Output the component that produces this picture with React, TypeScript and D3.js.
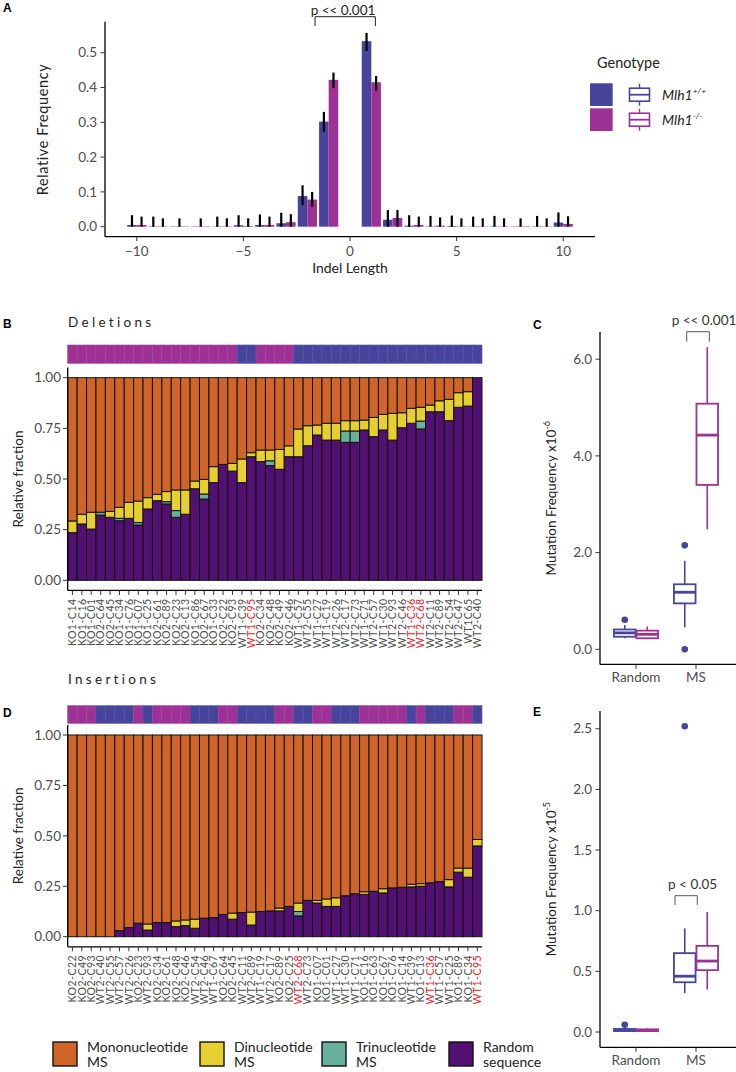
import React from 'react';
import * as d3 from 'd3';

// ---------- shared styling ----------
const FONT = "Lato, 'Open Sans', sans-serif";
const TXT = '#4d4d4d';
const BLUE = '#46459b';
const MAG = '#9d3196';
const C_MONO = '#cf6529';
const C_DI = '#e6cf2e';
const C_TRI = '#69b09c';
const C_RAND = '#521072';

// ---------- Panel A data ----------
const indelLengths = [-10, -9, -8, -7, -6, -5, -4, -3, -2, -1, 1, 2, 3, 4, 5, 6, 7, 8, 9, 10];
const wtFreq = [0.005, 0.001, null, null, 0.001, 0.004, 0.005, 0.01, 0.088, 0.302, 0.533, 0.02, 0.003, 0.001, 0.002, 0.001, 0.001, null, 0.001, 0.012];
const koFreq = [0.005, 0.001, 0.001, 0.001, 0.001, 0.002, 0.005, 0.013, 0.078, 0.422, 0.415, 0.025, 0.005, 0.003, 0.001, 0.001, 0.001, 0.001, 0.001, 0.008];
const wtHi = [0.033, 0.029, null, null, 0.029, 0.033, 0.035, 0.04, 0.119, 0.33, 0.557, 0.048, 0.033, 0.031, 0.032, 0.029, 0.031, null, 0.031, 0.041];
const wtLo = [0, 0, null, null, 0, 0, 0, 0, 0.062, 0.273, 0.505, 0, 0, 0, 0, 0, 0, null, 0, 0];
const koHi = [0.029, 0.024, 0.024, 0.024, 0.024, 0.024, 0.029, 0.036, 0.1, 0.443, 0.433, 0.048, 0.029, 0.027, 0.024, 0.024, 0.024, 0.024, 0.024, 0.03];
const koLo = [0, 0, 0, 0, 0, 0, 0, 0, 0.057, 0.398, 0.39, 0, 0, 0, 0, 0, 0, 0, 0, 0];
const aYTicks = [0, 0.1, 0.2, 0.3, 0.4, 0.5];
const aXTicks = [-10, -5, 0, 5, 10];

// ---------- Panel B data (deletions) ----------
const delLabels = ['KO1-C14', 'KO1-C16', 'KO1-C01', 'KO2-C64', 'KO2-C45', 'KO1-C34', 'KO1-C76', 'KO1-C07', 'KO1-C25', 'KO2-C61', 'KO2-C89', 'KO2-C23', 'KO2-C13', 'KO1-C86', 'KO2-C67', 'KO1-C33', 'KO2-C22', 'KO2-C93', 'WT1-C39', 'WT1-C95', 'KO2-C34', 'KO2-C48', 'KO2-C49', 'KO2-C46', 'WT1-C57', 'WT2-C55', 'WT1-C27', 'WT1-C19', 'WT2-C26', 'WT2-C17', 'WT2-C73', 'WT1-C71', 'WT2-C57', 'WT1-C30', 'WT2-C93', 'WT2-C46', 'WT1-C36', 'WT2-C68', 'WT2-C11', 'WT2-C89', 'WT2-C54', 'WT2-C47', 'WT1C65', 'WT2-C40'];
const delRandom = [0.235, 0.278, 0.253, 0.322, 0.311, 0.294, 0.306, 0.273, 0.352, 0.393, 0.377, 0.311, 0.326, 0.452, 0.401, 0.482, 0.572, 0.539, 0.482, 0.61, 0.586, 0.566, 0.548, 0.61, 0.61, 0.664, 0.717, 0.692, 0.692, 0.681, 0.681, 0.742, 0.709, 0.742, 0.692, 0.753, 0.775, 0.747, 0.832, 0.832, 0.788, 0.854, 0.86, 1.0];
const delTri = [0, 0, 0, 0.014, 0, 0.012, 0, 0.012, 0, 0, 0.011, 0.033, 0, 0, 0.025, 0, 0, 0, 0, 0, 0, 0.024, 0, 0, 0, 0, 0, 0, 0, 0.056, 0.056, 0, 0, 0, 0, 0, 0, 0.039, 0, 0, 0, 0, 0, 0];
const delDi = [0.058, 0.048, 0.083, 0, 0.029, 0.054, 0.079, 0.106, 0.056, 0.031, 0.05, 0.102, 0.12, 0.038, 0.072, 0.079, 0, 0.038, 0.117, 0.02, 0.057, 0.053, 0.098, 0.054, 0.137, 0.099, 0.049, 0.083, 0.083, 0.051, 0.051, 0.049, 0.095, 0.077, 0.132, 0.074, 0.074, 0.068, 0.033, 0.054, 0.105, 0.072, 0.071, 0];

// ---------- Panel D data (insertions) ----------
const insLabels = ['KO2-C22', 'KO2-C49', 'KO2-C93', 'WT2-C40', 'WT2-C55', 'WT2-C57', 'WT2-C26', 'KO2-C23', 'WT2-C93', 'KO2-C34', 'KO2-C61', 'KO2-C48', 'KO2-C46', 'WT2-C54', 'WT2-C46', 'WT1-C67', 'KO2-C64', 'KO2-C45', 'WT2-C11', 'WT2-C89', 'WT1-C19', 'WT2-C17', 'KO2-C89', 'KO2-C25', 'WT2-C68', 'WT2-C73', 'KO1-C07', 'KO1-C01', 'WT1-C27', 'WT1-C30', 'WT1-C71', 'KO1-C16', 'KO1-C63', 'KO1-C67', 'KO1-C76', 'KO1-C14', 'WT1-C39', 'KO1-C13', 'WT1-C36', 'WT1-C57', 'WT1-C25', 'KO1-C89', 'KO1-C34', 'WT1-C95'];
const insRandom = [0, 0, 0, 0, 0, 0.03, 0.045, 0.067, 0.033, 0.07, 0.07, 0.05, 0.055, 0.042, 0.092, 0.095, 0.11, 0.087, 0.12, 0.058, 0.125, 0.128, 0.128, 0.15, 0.103, 0.18, 0.167, 0.15, 0.15, 0.203, 0.213, 0.21, 0.225, 0.217, 0.242, 0.245, 0.247, 0.25, 0.267, 0.273, 0.247, 0.32, 0.295, 0.45];
const insTri = [0, 0, 0, 0, 0, 0, 0, 0, 0, 0, 0, 0, 0, 0, 0, 0, 0, 0, 0, 0, 0, 0, 0, 0, 0.022, 0, 0, 0, 0, 0, 0, 0, 0, 0, 0, 0, 0, 0, 0, 0, 0, 0, 0, 0];
const insDi = [0, 0, 0, 0, 0, 0, 0, 0, 0.03, 0, 0, 0.028, 0.028, 0.045, 0, 0, 0, 0.03, 0, 0.064, 0, 0, 0.014, 0, 0.042, 0, 0.013, 0.037, 0.043, 0, 0, 0.013, 0, 0.021, 0, 0, 0.013, 0.013, 0, 0, 0.036, 0.02, 0.045, 0.032];
const redLabels = ['WT1-C95', 'WT1-C36', 'WT2-C68'];
const fracTicks = [0, 0.25, 0.5, 0.75, 1];

// ---------- Panel C / E data (boxplots) ----------
const boxCats = ['Random', 'MS'];
// [lowerWhisker, q1, median, q3, upperWhisker]
const cWT = [[0.23, 0.26, 0.34, 0.41, 0.5], [0.455, 0.95, 1.18, 1.345, 1.83]];
const cKO = [[0.21, 0.228, 0.31, 0.386, 0.47], [2.48, 3.4, 4.43, 5.08, 6.25]];
const cWTOut = [[0.61], [2.15, 0.0]];
const cKOOut = [[], []];
const cTicks = [0, 2, 4, 6];
const eWT = [[0.005, 0.008, 0.015, 0.025, 0.04], [0.32, 0.41, 0.46, 0.65, 0.855]];
const eKO = [[0.005, 0.008, 0.013, 0.022, 0.03], [0.35, 0.51, 0.585, 0.71, 0.99]];
const eWTOut = [[0.06], [2.52]];
const eKOOut = [[], []];
const eTicks = [0, 0.5, 1, 1.5, 2, 2.5];

const legendItems = [
  { color: C_MONO, l1: 'Mononucleotide', l2: 'MS' },
  { color: C_DI, l1: 'Dinucleotide', l2: 'MS' },
  { color: C_TRI, l1: 'Trinucleotide', l2: 'MS' },
  { color: C_RAND, l1: 'Random', l2: 'sequence' },
];

const isKO = (l: string) => l.startsWith('KO');

function PanelA() {
  const x = d3.scaleLinear().domain([-11.49, 11.49]).range([105, 595]);
  const y = d3.scaleLinear().domain([0, 0.5]).range([226.7, 52.7]);
  const half = 0.45;
  const els: any[] = [];
  indelLengths.forEach((L, i) => {
    const w = wtFreq[i];
    const k = koFreq[i];
    const both = w != null && k != null;
    const bar = (x0: number, x1: number, v: number, c: string, key: string) => (
      <rect key={key} x={x(x0)} width={x(x1) - x(x0)} y={y(v)} height={Math.max(0.4, y(0) - y(v))} fill={c} />
    );
    const err = (cx: number, lo: number, hi: number, key: string) => (
      <line key={key} x1={x(cx)} x2={x(cx)} y1={y(lo)} y2={y(hi)} stroke="#000" strokeWidth={2.2} />
    );
    if (both) {
      els.push(bar(L - half, L, w as number, BLUE, 'bw' + i));
      els.push(bar(L, L + half, k as number, MAG, 'bk' + i));
      els.push(err(L - half / 2, wtLo[i] as number, wtHi[i] as number, 'ew' + i));
      els.push(err(L + half / 2, koLo[i], koHi[i], 'ek' + i));
    } else if (k != null) {
      els.push(bar(L - half, L + half, k, MAG, 'bk' + i));
      els.push(err(L, koLo[i], koHi[i], 'ek' + i));
    }
  });
  const yTop = y(0.589), yBot = 236.7;
  return (
    <g>
      <text x={3} y={12} fontFamily="Arial, sans-serif" fontWeight="bold" fontSize={12} fill="#000">A</text>
      {els}
      <line x1={105} x2={105} y1={yTop} y2={yBot} stroke="#000" strokeWidth={1.3} />
      <line x1={105} x2={595} y1={yBot} y2={yBot} stroke="#000" strokeWidth={1.3} />
      {aYTicks.map(t => (
        <g key={'ay' + t}>
          <line x1={100.5} x2={105} y1={y(t)} y2={y(t)} stroke="#333" strokeWidth={1} />
          <text x={97} y={y(t)} dy="0.35em" textAnchor="end" fontSize={13.5} fill={TXT}>{d3.format('.1f')(t)}</text>
        </g>
      ))}
      {aXTicks.map(t => (
        <g key={'ax' + t}>
          <line x1={x(t)} x2={x(t)} y1={yBot} y2={yBot + 4.5} stroke="#333" strokeWidth={1} />
          <text x={x(t)} y={yBot + 19} textAnchor="middle" fontSize={13.5} fill={TXT}>{t < 0 ? '\u2212' + Math.abs(t) : t}</text>
        </g>
      ))}
      <text transform={`translate(42.5,129.5) rotate(-90)`} textAnchor="middle" dy="0.35em" fontSize={14.5} letterSpacing={0.6} fill="#222">Relative Frequency</text>
      <text x={350} y={273} textAnchor="middle" fontSize={14} fill="#222">Indel Length</text>
      {/* significance bracket */}
      <path d={`M${x(-1.64)},26 V16.7 H${x(1.19)} V26`} fill="none" stroke="#222" strokeWidth={1} />
      <text x={343} y={14.5} textAnchor="middle" fontSize={13.5} fill="#222">p &lt;&lt; 0.001</text>
      {/* legend */}
      <text x={597} y={68} fontSize={14.5} fill="#222">Genotype</text>
      {[{ c: BLUE, sup: '+/+' }, { c: MAG, sup: '-/-' }].map((g, i) => {
        const cy = 94.7 + i * 25;
        return (
          <g key={'lg' + i}>
            <rect x={590} y={cy - 11.4} width={22.7} height={22.7} fill={g.c} />
            <line x1={639.5} x2={639.5} y1={cy - 11} y2={cy + 11} stroke={g.c} strokeWidth={1.4} />
            <rect x={629.5} y={cy - 6.5} width={20} height={13} fill="#fff" stroke={g.c} strokeWidth={1.6} />
            <line x1={629.5} x2={649.5} y1={cy} y2={cy} stroke={g.c} strokeWidth={1.8} />
            <text x={662} y={cy + 5} fontSize={14} fontStyle="italic" fill="#222">Mlh1<tspan dy={-6} fontSize={8.5}>{g.sup}</tspan></text>
          </g>
        );
      })}
    </g>
  );
}

function StackPanel(props: any) {
  const { labels, random, tri, di, zeroY, oneY, letter, letterY, title, titleY, stripY0, stripY1 } = props;
  const n = labels.length;
  const x = d3.scaleBand<number>().domain(d3.range(n)).range([67.7, 482]).padding(0);
  const y = d3.scaleLinear().domain([0, 1]).range([zeroY, oneY]);
  const yTop = y(1.05), yBot = y(-0.05);
  const bars: any[] = [];
  labels.forEach((l: string, i: number) => {
    const segs = [
      { v: random[i], c: C_RAND },
      { v: tri[i], c: C_TRI },
      { v: di[i], c: C_DI },
      { v: 1 - random[i] - tri[i] - di[i], c: C_MONO },
    ];
    let acc = 0;
    segs.forEach((s, j) => {
      if (s.v > 0.0005) {
        bars.push(
          <rect key={`s${i}-${j}`} x={x(i)} width={x.bandwidth()} y={y(acc + s.v)} height={y(acc) - y(acc + s.v)} fill={s.c} stroke="#111" strokeWidth={1} />
        );
      }
      acc += s.v;
    });
  });
  return (
    <g>
      <text x={3} y={letterY} fontFamily="Arial, sans-serif" fontWeight="bold" fontSize={12} fill="#000">{letter}</text>
      <text x={68} y={titleY} fontSize={13.5} letterSpacing={3.3} fill="#222">{title}</text>
      {labels.map((l: string, i: number) => (
        <rect key={'st' + i} x={x(i)} width={x.bandwidth()} y={stripY0} height={stripY1 - stripY0} fill={isKO(l) ? MAG : BLUE} stroke={isKO(l) ? '#a8479f' : '#5555a5'} strokeWidth={0.6} />
      ))}
      {bars}
      <line x1={67.7} x2={67.7} y1={yTop} y2={yBot} stroke="#000" strokeWidth={1.3} />
      <line x1={67.7} x2={482} y1={yBot} y2={yBot} stroke="#000" strokeWidth={1.3} />
      {fracTicks.map(t => (
        <g key={'ft' + t}>
          <line x1={63} x2={67.7} y1={y(t)} y2={y(t)} stroke="#333" strokeWidth={1} />
          <text x={61} y={y(t)} dy="0.35em" textAnchor="end" fontSize={13.5} fill={TXT}>{d3.format('.2f')(t)}</text>
        </g>
      ))}
      {labels.map((l: string, i: number) => {
        const cx = (x(i) as number) + x.bandwidth() / 2;
        const ty = yBot + 8;
        return (
          <g key={'xl' + i}>
            <line x1={cx} x2={cx} y1={yBot} y2={yBot + 4.5} stroke="#333" strokeWidth={1} />
            <text transform={`translate(${cx},${ty}) rotate(-90)`} dy="0.35em" textAnchor="end" fontSize={10.5} letterSpacing={0.5} fill={redLabels.includes(l) ? '#e8201f' : TXT}>{l}</text>
          </g>
        );
      })}
      <text transform={`translate(18.5,${(yTop + yBot) / 2}) rotate(-90)`} dy="0.35em" textAnchor="middle" fontSize={13.5} fill="#222">Relative fraction</text>
    </g>
  );
}

function BoxPanel(props: any) {
  const { wt, ko, wtOut, koOut, ticks, dom, zeroY, oneY, letter, letterY, exp, bracket, pText, pTextY, pTextX } = props;
  const y = d3.scaleLinear().domain([0, dom]).range([zeroY, oneY]);
  const x = d3.scaleLinear().domain([0.4, 2.6]).range([600, 732]);
  const yTop = y(props.top), yBot = y(props.bot);
  const bw = x(0.36) - x(0);
  const box = (s: number[], cx: number, c: string, key: string) => (
    <g key={key}>
      <line x1={cx} x2={cx} y1={y(s[3])} y2={y(s[4])} stroke={c} strokeWidth={1.6} />
      <line x1={cx} x2={cx} y1={y(s[0])} y2={y(s[1])} stroke={c} strokeWidth={1.6} />
      <rect x={cx - bw / 2} width={bw} y={y(s[3])} height={y(s[1]) - y(s[3])} fill="#fff" stroke={c} strokeWidth={1.8} />
      <line x1={cx - bw / 2} x2={cx + bw / 2} y1={y(s[2])} y2={y(s[2])} stroke={c} strokeWidth={2.8} />
    </g>
  );
  const els: any[] = [];
  boxCats.forEach((cat, i) => {
    const cw = x(i + 1 - 0.1875), ck = x(i + 1 + 0.1875);
    els.push(box(wt[i], cw, BLUE, 'bw' + i));
    els.push(box(ko[i], ck, MAG, 'bk' + i));
    wtOut[i].forEach((o: number, j: number) => els.push(<circle key={`ow${i}-${j}`} cx={cw} cy={y(o)} r={3.3} fill={BLUE} />));
    koOut[i].forEach((o: number, j: number) => els.push(<circle key={`ok${i}-${j}`} cx={ck} cy={y(o)} r={3.3} fill={MAG} />));
  });
  return (
    <g>
      <text x={533} y={letterY} fontFamily="Arial, sans-serif" fontWeight="bold" fontSize={12} fill="#000">{letter}</text>
      {els}
      <line x1={600} x2={600} y1={yTop} y2={yBot} stroke="#000" strokeWidth={1.3} />
      <line x1={600} x2={736} y1={yBot} y2={yBot} stroke="#000" strokeWidth={1.3} />
      {ticks.map((t: number) => (
        <g key={'t' + t}>
          <line x1={595.5} x2={600} y1={y(t)} y2={y(t)} stroke="#333" strokeWidth={1} />
          <text x={592} y={y(t)} dy="0.35em" textAnchor="end" fontSize={13.5} fill={TXT}>{d3.format('.1f')(t)}</text>
        </g>
      ))}
      {boxCats.map((c, i) => (
        <g key={'c' + c}>
          <line x1={x(i + 1)} x2={x(i + 1)} y1={yBot} y2={yBot + 4.5} stroke="#333" strokeWidth={1} />
          <text x={x(i + 1)} y={yBot + 18} textAnchor="middle" fontSize={13.5} fill={TXT}>{c}</text>
        </g>
      ))}
      <path d={`M${bracket[0]},${bracket[3]} V${bracket[2]} H${bracket[1]} V${bracket[3]}`} fill="none" stroke="#555" strokeWidth={1} />
      <text x={pTextX} y={pTextY} textAnchor="middle" fontSize={13.5} fill="#333">{pText}</text>
      <text transform={`translate(551.5,${(yTop + yBot) / 2}) rotate(-90)`} dy="0.35em" textAnchor="middle" fontSize={13.5} fill="#222">Mutation Frequency x10<tspan dy={-6} fontSize={9}>{exp}</tspan></text>
    </g>
  );
}

function Legend() {
  const bx = [53, 200, 322, 449];
  return (
    <g>
      {legendItems.map((it, i) => (
        <g key={'li' + i}>
          <rect x={bx[i]} y={1042} width={24} height={24} fill={it.color} stroke="#111" strokeWidth={1.4} />
          <text x={bx[i] + 34} y={1052} fontSize={14} fill="#222">{it.l1}</text>
          <text x={bx[i] + 34} y={1067} fontSize={14} fill="#222">{it.l2}</text>
        </g>
      ))}
    </g>
  );
}

export default function App() {
  return (
    <svg width={736} height={1072} viewBox="0 0 736 1072" style={{ position: 'absolute', left: 0, top: 0, background: '#fff' }} fontFamily={FONT}>
      <rect width={736} height={1072} fill="#fff" />
      <PanelA />
      <StackPanel labels={delLabels} random={delRandom} tri={delTri} di={delDi} zeroY={580.3} oneY={377.7}
        letter="B" letterY={328} title="Deletions" titleY={327} stripY0={345} stripY1={363.3} />
      <StackPanel labels={insLabels} random={insRandom} tri={insTri} di={insDi} zeroY={936.7} oneY={735}
        letter="D" letterY={716.5} title="Insertions" titleY={684} stripY0={705.7} stripY1={723.3} />
      <BoxPanel wt={cWT} ko={cKO} wtOut={cWTOut} koOut={cKOOut} ticks={cTicks} dom={6} zeroY={649.3} oneY={359.2}
        top={6.563} bot={-0.313} letter="C" letterY={328.5} exp="-6"
        bracket={[686.7, 709.3, 331.7, 341.7]} pText="p << 0.001" pTextX={704} pTextY={325} />
      <BoxPanel wt={eWT} ko={eKO} wtOut={eWTOut} koOut={eKOOut} ticks={eTicks} dom={1} zeroY={1032} oneY={910.7}
        top={2.646} bot={-0.126} letter="E" letterY={715.5} exp="-5"
        bracket={[675, 697.3, 895.7, 905]} pText="p < 0.05" pTextX={692.6} pTextY={889} />
      <Legend />
    </svg>
  );
}
